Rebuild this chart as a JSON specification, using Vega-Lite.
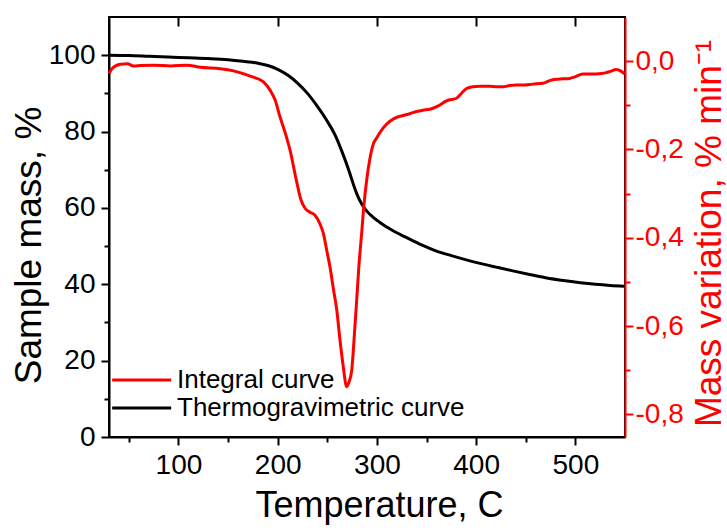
{
  "$schema": "https://vega.github.io/schema/vega-lite/v6.json",
  "width": 516,
  "height": 420,
  "autosize": "none",
  "padding": {"left": 109, "top": 17, "right": 102, "bottom": 93},
  "background": "white",
  "config": {
    "view": {"stroke": "black", "strokeWidth": 2},
    "font": "Liberation Sans",
    "axis": {"grid": false, "labelFont": "Liberation Sans", "titleFont": "Liberation Sans", "titleFontWeight": "normal", "labelOverlap": false, "labelFlush": false, "labelBound": false, "domainWidth": 2, "tickWidth": 2}
  },
  "datasets": {
    "tg": [
      {"T": 30, "mass": 100.0}, {"T": 50, "mass": 99.9}, {"T": 70, "mass": 99.7}, {"T": 90, "mass": 99.5},
      {"T": 110, "mass": 99.3}, {"T": 130, "mass": 99.1}, {"T": 150, "mass": 98.8}, {"T": 165, "mass": 98.4},
      {"T": 180, "mass": 97.9}, {"T": 190, "mass": 97.3}, {"T": 200, "mass": 96.3}, {"T": 210, "mass": 94.8},
      {"T": 220, "mass": 92.7}, {"T": 230, "mass": 90.0}, {"T": 240, "mass": 86.6}, {"T": 250, "mass": 82.7},
      {"T": 258, "mass": 79.0}, {"T": 265, "mass": 74.6}, {"T": 272, "mass": 69.6}, {"T": 277, "mass": 65.6},
      {"T": 281, "mass": 62.9}, {"T": 285, "mass": 60.9}, {"T": 290, "mass": 59.1}, {"T": 296, "mass": 57.6},
      {"T": 303, "mass": 56.2}, {"T": 315, "mass": 54.2}, {"T": 330, "mass": 52.2}, {"T": 345, "mass": 50.3},
      {"T": 360, "mass": 48.7}, {"T": 375, "mass": 47.5}, {"T": 390, "mass": 46.4}, {"T": 405, "mass": 45.4},
      {"T": 420, "mass": 44.5}, {"T": 437, "mass": 43.5}, {"T": 455, "mass": 42.5}, {"T": 470, "mass": 41.7},
      {"T": 490, "mass": 40.9}, {"T": 505, "mass": 40.4}, {"T": 520, "mass": 40.0}, {"T": 535, "mass": 39.7},
      {"T": 549, "mass": 39.5}
    ],
    "dtg": [
      {"T": 30, "dm": -0.028}, {"T": 33.4, "dm": -0.016}, {"T": 41.5, "dm": -0.007}, {"T": 48.5, "dm": -0.006},
      {"T": 54.8, "dm": -0.011}, {"T": 61.6, "dm": -0.010}, {"T": 75, "dm": -0.009}, {"T": 91.8, "dm": -0.011},
      {"T": 108.6, "dm": -0.009}, {"T": 122, "dm": -0.014}, {"T": 142, "dm": -0.017}, {"T": 155.5, "dm": -0.022},
      {"T": 172.3, "dm": -0.034}, {"T": 185.6, "dm": -0.047}, {"T": 192.4, "dm": -0.066}, {"T": 197.4, "dm": -0.088},
      {"T": 202.3, "dm": -0.126}, {"T": 207.4, "dm": -0.161}, {"T": 212.4, "dm": -0.201}, {"T": 219.2, "dm": -0.274},
      {"T": 223.6, "dm": -0.315}, {"T": 227.6, "dm": -0.333}, {"T": 232.6, "dm": -0.342}, {"T": 237.6, "dm": -0.349},
      {"T": 242.7, "dm": -0.369}, {"T": 246, "dm": -0.390}, {"T": 249.4, "dm": -0.428}, {"T": 252.7, "dm": -0.466},
      {"T": 256.3, "dm": -0.518}, {"T": 259.5, "dm": -0.563}, {"T": 262.8, "dm": -0.632}, {"T": 266.1, "dm": -0.692},
      {"T": 269.5, "dm": -0.737}, {"T": 271.8, "dm": -0.727}, {"T": 274.6, "dm": -0.700}, {"T": 276.9, "dm": -0.632},
      {"T": 279.6, "dm": -0.541}, {"T": 281.9, "dm": -0.462}, {"T": 284.6, "dm": -0.390}, {"T": 286.9, "dm": -0.326},
      {"T": 289.7, "dm": -0.269}, {"T": 293, "dm": -0.220}, {"T": 296, "dm": -0.190}, {"T": 299.7, "dm": -0.174},
      {"T": 306, "dm": -0.152}, {"T": 313.1, "dm": -0.136}, {"T": 320.1, "dm": -0.127}, {"T": 326.5, "dm": -0.123},
      {"T": 333.2, "dm": -0.119}, {"T": 339.9, "dm": -0.114}, {"T": 346.3, "dm": -0.111}, {"T": 353.3, "dm": -0.109},
      {"T": 361.4, "dm": -0.102}, {"T": 370.1, "dm": -0.090}, {"T": 374.5, "dm": -0.087}, {"T": 380.2, "dm": -0.084},
      {"T": 385.5, "dm": -0.072}, {"T": 390.3, "dm": -0.062}, {"T": 396.6, "dm": -0.058}, {"T": 403.6, "dm": -0.057},
      {"T": 413.7, "dm": -0.057}, {"T": 420.7, "dm": -0.058}, {"T": 427.1, "dm": -0.058}, {"T": 433.8, "dm": -0.055},
      {"T": 440.6, "dm": -0.054}, {"T": 448.9, "dm": -0.054}, {"T": 457, "dm": -0.052}, {"T": 467.3, "dm": -0.050},
      {"T": 474.1, "dm": -0.044}, {"T": 480.8, "dm": -0.041}, {"T": 487.1, "dm": -0.040}, {"T": 494.2, "dm": -0.039},
      {"T": 500.2, "dm": -0.035}, {"T": 507.6, "dm": -0.029}, {"T": 514.3, "dm": -0.029}, {"T": 521, "dm": -0.029},
      {"T": 526.4, "dm": -0.028}, {"T": 531.1, "dm": -0.026}, {"T": 535.4, "dm": -0.023}, {"T": 541.2, "dm": -0.019},
      {"T": 545.5, "dm": -0.022}, {"T": 549.5, "dm": -0.029}
    ]
  },
  "layer": [
    {
      "data": {"name": "tg"},
      "mark": {"type": "line", "strokeWidth": 3, "interpolate": "monotone"},
      "encoding": {
        "x": {
          "field": "T", "type": "quantitative",
          "scale": {"domain": [30, 550], "nice": false, "zero": false},
          "axis": {
            "orient": "bottom",
            "values": [50, 100, 150, 200, 250, 300, 350, 400, 450, 500],
            "labelExpr": "datum.value % 100 === 0 ? datum.label : ''",
            "tickSize": {"condition": {"test": "datum.value % 100 === 0", "value": 8}, "value": 5},
            "domainColor": "black", "tickColor": "black", "labelColor": "black",
            "labelFontSize": 28, "labelPadding": 6,
            "title": "Temperature, C", "titleFontSize": 36, "titleColor": "black",
            "titleX": 270, "titleY": 68, "titleBaseline": "middle", "titleAlign": "center"
          }
        },
        "y": {
          "field": "mass", "type": "quantitative",
          "scale": {"domain": [0, 110], "nice": false, "zero": false},
          "axis": {
            "orient": "left",
            "values": [0, 10, 20, 30, 40, 50, 60, 70, 80, 90, 100],
            "labelExpr": "datum.value % 20 === 0 ? datum.label : ''",
            "tickSize": {"condition": {"test": "datum.value % 20 === 0", "value": 8}, "value": 5},
            "domainColor": "black", "tickColor": "black", "labelColor": "black",
            "labelFontSize": 28, "labelPadding": 6,
            "title": "Sample mass, %", "titleFontSize": 37, "titleColor": "black",
            "titleAngle": -90, "titleX": -80, "titleY": 228, "titleBaseline": "middle", "titleAlign": "center"
          }
        },
        "color": {
          "datum": "Thermogravimetric curve", "type": "nominal",
          "scale": {"domain": ["Integral curve", "Thermogravimetric curve"], "range": ["#ff0000", "#000000"]},
          "legend": {
            "orient": "none", "legendX": 0, "legendY": 350, "title": null,
            "symbolType": "M-1,0H5", "symbolSize": 387, "symbolStrokeWidth": 3,
            "labelFontSize": 26, "labelFont": "Liberation Sans", "labelColor": "black", "labelOffset": 42,
            "labelLimit": 500, "rowPadding": 2
          }
        }
      }
    },
    {
      "data": {"name": "dtg"},
      "mark": {"type": "line", "strokeWidth": 3, "interpolate": "monotone"},
      "encoding": {
        "x": {
          "field": "T", "type": "quantitative",
          "scale": {"domain": [30, 550], "nice": false, "zero": false},
          "axis": {
            "orient": "top",
            "values": [100, 200, 300, 400, 500],
            "ticks": true, "labels": false, "tickSize": 9, "offset": -9, "domain": false,
            "tickColor": "#000000", "tickWidth": 2, "title": null, "zindex": 2
          }
        },
        "y": {
          "field": "dm", "type": "quantitative",
          "scale": {"domain": [-0.851, 0.1], "nice": false, "zero": false},
          "axis": {
            "orient": "right",
            "values": [-0.8, -0.7, -0.6, -0.5, -0.4, -0.3, -0.2, -0.1, 0],
            "labelExpr": "round(abs(datum.value) * 10) % 2 === 0 ? ((datum.value < -0.001 ? '-' : '') + replace(format(abs(datum.value), '.1f'), '.', ',')) : ''",
            "tickSize": {"condition": {"test": "round(abs(datum.value) * 10) % 2 === 0", "value": 8}, "value": 5},
            "domainColor": "#ff0000", "tickColor": "#ff0000", "labelColor": "#ff0000",
            "labelFontSize": 28, "labelPadding": 2,
            "title": "Mass variation, % min⁻¹", "titleFontSize": 37, "titleColor": "#ff0000",
            "titleAngle": -90, "titleX": 84, "titleY": 216, "titleBaseline": "middle", "titleAlign": "center"
          }
        },
        "color": {"datum": "Integral curve", "type": "nominal"}
      }
    }
  ],
  "resolve": {"scale": {"y": "independent"}, "axis": {"x": "independent", "y": "independent"}}
}
